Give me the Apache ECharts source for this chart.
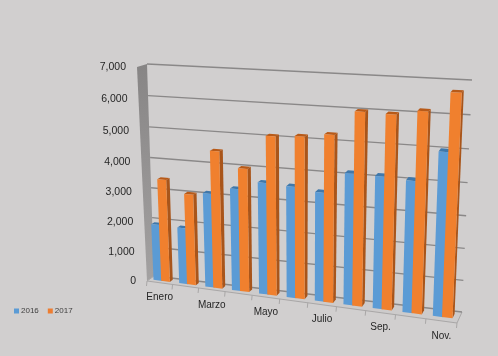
<!DOCTYPE html>
<html><head><meta charset="utf-8">
<style>html,body{margin:0;padding:0;background:#d1cfcf}#c{width:498px;height:356px}</style>
<script src="https://cdn.jsdelivr.net/npm/echarts@6/dist/echarts.min.js"></script>
</head><body><div id="c"></div>
<script>
const categories = ['Enero','Feb.','Marzo','Abril','Mayo','Junio','Julio','Agosto','Sep.','Oct.','Nov.'];
const values2016 = [1900,1880,3110,3340,3620,3580,3480,4150,4140,4090,5020];
const values2017 = [3420,3020,4490,4010,5090,5150,5270,6020,6000,6150,6740];
const valueTicks = [0,1000,2000,3000,4000,5000,6000,7000];

const G = {left:137, top:66, width:320, height:215};
const FRONT = [[137,67],[467,86],[457,323],[147,281]];
const BACK  = [[147,64],[472,80],[462,312],[154,276]];
const TXT = '"Liberation Sans", Arial, sans-serif';

function quad(q){
  const [[x0,y0],[x1,y1],[x2,y2],[x3,y3]] = q;
  const dx1=x1-x2,dx2=x3-x2,sx=x0-x1+x2-x3,dy1=y1-y2,dy2=y3-y2,sy=y0-y1+y2-y3;
  const den=dx1*dy2-dx2*dy1;
  const g=(sx*dy2-dx2*sy)/den,h=(dx1*sy-sx*dy1)/den;
  const a=x1-x0+g*x1,b=x3-x0+h*x3,d=y1-y0+g*y1,e=y3-y0+h*y3;
  return (s,t)=>{const w=g*s+h*t+1;return [(a*s+b*t+x0)/w,(d*s+e*t+y0)/w];};
}
const hFront=quad(FRONT), hBack=quad(BACK);
// grid pixel -> picture pixel, at depth d (0 front of floor, 1 back wall)
function proj(p,d){
  const s=(p[0]-G.left)/G.width,t=(p[1]-G.top)/G.height;
  const f=hFront(s,t),b=hBack(s,t);
  return [f[0]+(b[0]-f[0])*d,f[1]+(b[1]-f[1])*d];
}
function poly(points,fill,extra){
  return Object.assign({type:'polygon',shape:{points},style:{fill,stroke:null}},extra||{});
}
function seg(a,b,stroke,lineWidth){
  return {type:'line',shape:{x1:a[0],y1:a[1],x2:b[0],y2:b[1]},style:{stroke,lineWidth,fill:null}};
}
function edges(api){
  const bw=api.size([1,0])[0];
  const c0=api.coord([0,0]);
  const c1=api.coord([categories.length-1,valueTicks[valueTicks.length-1]]);
  return {bw,x0:c0[0]-bw/2,x1:c1[0]+bw/2,y0:c0[1],y1:c1[1]};
}

const wallFloor=(params,api)=>{
  const e=edges(api), kids=[];
  const a=[e.x0,e.y1],b=[e.x0,e.y0],c=[e.x1,e.y0];
  kids.push(poly([proj(b,0),proj(c,0),proj(c,1),proj(b,1)],'#cdcbcb'));
  kids.push(poly([proj(a,0),proj(a,1),proj(b,1),proj(b,0)],
    new echarts.graphic.LinearGradient(0,0,0,1,[{offset:0,color:'#878585'},{offset:1,color:'#a3a1a1'}])));
  kids.push(seg(proj(b,0),proj(c,0),'#a9a7a7',1.2));
  kids.push(seg(proj(c,0),proj(c,1),'#a9a7a7',1));
  kids.push(seg(proj(b,0),proj(b,1),'#a9a7a7',1));
  for(let i=0;i<=categories.length;i++){
    const x=e.x0+i*e.bw,p=proj([x,e.y0],0);
    kids.push(seg(p,[p[0]-0.5,p[1]+5],'#a9a7a7',1));
  }
  return {type:'group',children:kids};
};
const gridLine=(params,api)=>{
  const e=edges(api),y=api.coord([0,api.value(0)])[1];
  return seg(proj([e.x0,y],1),proj([e.x1,y],1),'#8a8888',1.3);
};
const valueLabel=(params,api)=>{
  const e=edges(api),v=api.value(0),y=api.coord([0,v])[1],p=proj([e.x0,y],0);
  return {type:'text',style:{text:v.toLocaleString('en-US'),x:p[0]-11,y:p[1],align:'right',verticalAlign:'middle',
    font:'10.5px '+TXT,fill:'#262626'}};
};
const catLabel=(params,api)=>{
  const i=api.value(0),c=api.coord([i,0]),p=proj(c,0);
  return {type:'text',style:{text:categories[i],x:p[0],y:p[1]+15,align:'center',verticalAlign:'middle',
    font:'10px '+TXT,fill:'#262626'}};
};
function barRender(f0,f1,front,top,side){
  return (params,api)=>{
    const i=api.value(0),v=api.value(1),bw=api.size([1,0])[0];
    const c=api.coord([i,v]),z=api.coord([i,0]);
    const l=c[0]-bw/2+f0*bw,r=c[0]-bw/2+f1*bw;
    const D0=0.35,D1=0.75;
    const tl=proj([l,c[1]],D0),tr=proj([r,c[1]],D0),bl=proj([l,z[1]],D0),br=proj([r,z[1]],D0);
    const tl2=proj([l,c[1]],D1),tr2=proj([r,c[1]],D1),br2=proj([r,z[1]],D1);
    return {type:'group',children:[
      poly([tr,tr2,br2,br],side),
      poly([tl,tl2,tr2,tr],top),
      poly([tl,tr,br,bl],front)
    ]};
  };
}
const idx=categories.map((_,i)=>i);
const yTickData=valueTicks.map(v=>[v]);
const common={type:'custom',coordinateSystem:'cartesian2d',silent:true,clip:false};
const option={
  animation:false,
  backgroundColor:'#d1cfcf',
  grid:{left:G.left,top:G.top,width:G.width,height:G.height},
  xAxis:{type:'category',data:categories,show:false},
  yAxis:{type:'value',min:0,max:7000,interval:1000,show:false},
  legend:{data:['2016','2017'],left:9,top:302,orient:'horizontal',itemWidth:5,itemHeight:5,itemGap:9,
    textStyle:{fontSize:8,fontFamily:TXT,color:'#404040',padding:[0,0,0,-3]},icon:'rect'},
  series:[
    Object.assign({},common,{name:'frame',data:[[0]],renderItem:wallFloor,encode:{x:[],y:[]},z:1}),
    Object.assign({},common,{name:'grid',data:yTickData,renderItem:gridLine,encode:{x:[],y:0},z:2}),
    Object.assign({},common,{name:'2016',color:'#5b9bd5',data:idx.map(i=>[i,values2016[i]]),encode:{x:0,y:1},z:3,
      renderItem:barRender(0.16,0.5,'#5b9bd5','#3f78ab','#3f78ab')}),
    Object.assign({},common,{name:'2017',color:'#ed7d31',data:idx.map(i=>[i,values2017[i]]),encode:{x:0,y:1},z:4,
      renderItem:barRender(0.46,0.8,'#f0802e','#b85a18','#a9551a')}),
    Object.assign({},common,{name:'vlabels',data:yTickData,renderItem:valueLabel,encode:{x:[],y:0},z:5}),
    Object.assign({},common,{name:'clabels',data:idx.filter(i=>i%2===0).map(i=>[i]),renderItem:catLabel,encode:{x:0,y:[]},z:5})
  ]
};
echarts.init(document.getElementById('c'),null,{renderer:'canvas'}).setOption(option);
</script></body></html>
